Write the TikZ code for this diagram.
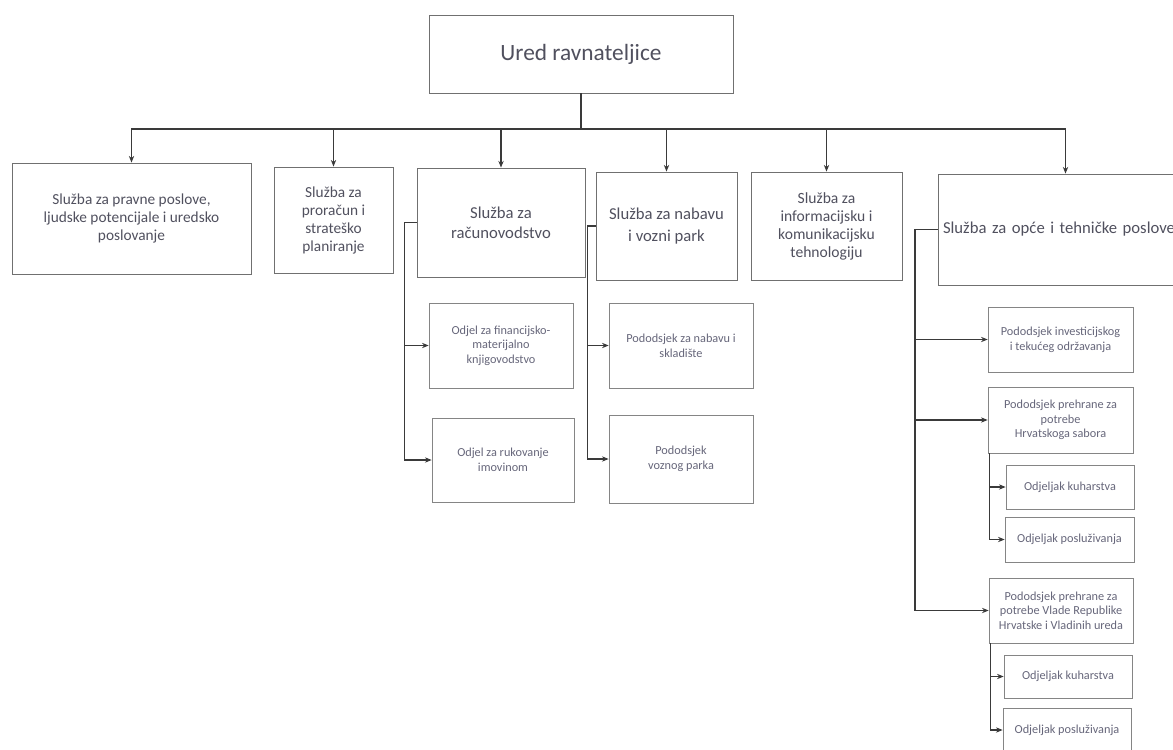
\documentclass[tikz,border=0pt]{standalone}
\usepackage{fontspec}
\setmainfont{Carlito}
\usetikzlibrary{arrows.meta}
\definecolor{txt}{HTML}{50505E}
\definecolor{subtxt}{HTML}{66667A}
\definecolor{ln}{HTML}{3A3A3A}
\definecolor{bd}{HTML}{707070}
\tikzset{
  bx/.style 2 args={draw=bd, line width=0.65pt, rectangle, minimum width=#1*0.75pt, minimum height=#2*0.75pt, inner sep=0pt, align=center, text=txt},
  title/.style={font=\fontsize{11.5}{13.5}\selectfont},
  sub/.style={font=\fontsize{9.2}{11}\selectfont, text=subtxt, draw=bd!85, line width=0.55pt},
  conn/.style={draw=ln, line width=0.9pt},
  arr/.style={conn, -{Stealth[length=5pt,width=4pt]}},
}
\begin{document}
\begin{tikzpicture}[x=0.75pt,y=-0.75pt]
\useasboundingbox (0,0) rectangle (1173,749);
% top
\node[bx={304}{78}, font=\fontsize{17.5}{20}\selectfont] (top) at (581,54) {Ured ravnateljice};
% services
\node[bx={239}{111}, title] (b1) at (131.5,218.5) {Služba za pravne poslove,\\ljudske potencijale i uredsko\\poslovanje};
\node[bx={119}{106}, title] (b2) at (333.5,220) {Služba za\\proračun i\\strateško\\planiranje};
\node[bx={168}{109}, font=\fontsize{12.5}{15}\selectfont] (b3) at (501,222.5) {Služba za\\računovodstvo};
\node[bx={141}{108}, font=\fontsize{12.5}{16}\selectfont] (b4) at (666.5,226) {Služba za nabavu\\i vozni park};
\node[bx={151}{108}, font=\fontsize{11.7}{13.5}\selectfont] (b5) at (826.5,226) {Služba za\\informacijsku i\\komunikacijsku\\tehnologiju};
\node[bx={249}{111}, font=\fontsize{12.5}{15}\selectfont, text width=245*0.75pt, align=left, inner xsep=3.5pt] (b6) at (1065.5,229.5) {Služba za opće i tehničke poslove};
% sub units
\node[bx={144}{85}, sub] (s3a) at (501,345.5) {Odjel za financijsko-\\materijalno\\knjigovodstvo};
\node[bx={142}{84}, sub] (s3b) at (503,460) {Odjel za rukovanje\\imovinom};
\node[bx={144}{85}, sub] (s4a) at (681,345.5) {Pododsjek za nabavu i\\skladište};
\node[bx={144}{88}, sub] (s4b) at (681,459) {Pododsjek\\voznog parka};
\node[bx={145}{65}, sub] (s6a) at (1060.5,339.5) {Pododsjek investicijskog\\i tekućeg održavanja};
\node[bx={145}{66}, sub] (s6b) at (1060.5,420) {Pododsjek prehrane za\\potrebe\\Hrvatskoga sabora};
\node[bx={128}{44}, sub] (s6b1) at (1070,487) {Odjeljak kuharstva};
\node[bx={129}{45}, sub] (s6b2) at (1069.5,539.5) {Odjeljak posluživanja};
\node[bx={144}{65}, sub] (s6c) at (1061,610.5) {Pododsjek prehrane za\\potrebe Vlade Republike\\Hrvatske i Vladinih ureda};
\node[bx={128}{43}, sub] (s6c1) at (1068,676.5) {Odjeljak kuharstva};
\node[bx={128}{44}, sub] (s6c2) at (1067,730) {Odjeljak posluživanja};
% connectors
\coordinate (bus) at (0,129);
\draw[conn] (top.south) -- (top.south |- bus) coordinate (bc);
\foreach \b in {b1,b2,b3,b4,b5,b6} {
  \draw[arr] (bc) -| (\b.north);
}
\draw[arr] (b3.west) -- ++(-12,0) coordinate (k3) |- (s3a.west);
\draw[arr] (k3) |- (s3b.west);
\draw[arr] (b4.west) -- ++(-8,0) coordinate (k4) |- (s4a.west);
\draw[arr] (k4) |- (s4b.west);
\draw[arr] (b6.west) -- ++(-23,0) coordinate (k6) |- (s6a.west);
\draw[arr] (k6) |- (s6b.west);
\draw[arr] (k6) |- (s6c.west);
\draw[arr] ([xshift=1.5pt]s6b.south west) |- (s6b1.west);
\draw[arr] ([xshift=1.5pt]s6b.south west) |- (s6b2.west);
\draw[arr] ([xshift=1.5pt]s6c.south west) |- (s6c1.west);
\draw[arr] ([xshift=1.5pt]s6c.south west) |- (s6c2.west);
\end{tikzpicture}
\end{document}
